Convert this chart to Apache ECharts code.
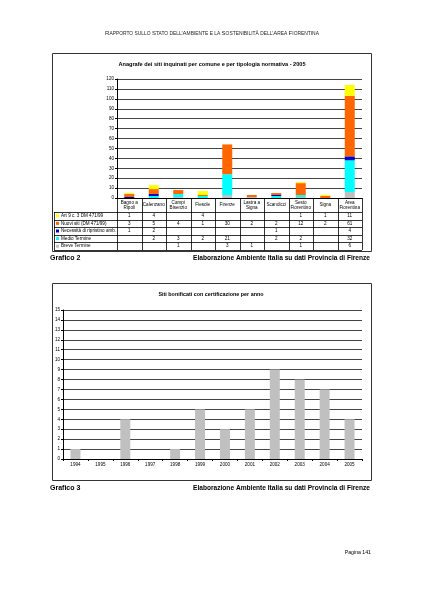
<!DOCTYPE html>
<html><head><meta charset="utf-8">
<script src="https://cdn.jsdelivr.net/npm/echarts@6/dist/echarts.min.js"></script>
<style>html,body{margin:0;padding:0;background:#fff}#c{width:424px;height:599px}</style>
</head><body><div id="c"></div>
<script>
const categories = ['Bagno a\nRipoli','Calenzano','Campi\nBisenzio','Fiesole','Firenze','Lastra a\nSigna','Scandicci','Sesto\nFiorentino','Signa','Area\nFiorentina'];
const seriesNames = ['Art 9 c. 3 DM 471/99','Nuovi siti (DM 471/99)','Necessità di ripristino amb.','Medio Termine','Breve Termine'];
const art9 = [1,4,null,4,null,null,null,1,1,11];
const nuovi = [3,5,4,1,30,2,2,12,2,61];
const ripristino = [1,2,null,null,null,null,1,null,null,4];
const medio = [null,2,3,2,21,null,2,2,null,32];
const breve = [null,null,1,null,3,1,null,1,null,6];
const seriesColors = ['#ffff00','#ff6600','#0000cc','#00ffff','#c0c0c0'];
const years = ['1994','1995','1996','1997','1998','1999','2000','2001','2002','2003','2004','2005'];
const bonificati = [1,0,4,0,1,5,3,5,9,8,7,4];

const FONT = '"Liberation Sans", Arial, sans-serif';
const chart = echarts.init(document.getElementById('c'), null, {renderer:'canvas', width:424, height:599});

const g1 = {left:117, top:79, width:245, height:119};
const g2 = {left:63, top:310, width:299, height:149};
const rowsData = [art9, nuovi, ripristino, medio, breve];

const graphics = [];
const colW = g1.width / categories.length;
const tTop = g1.top + g1.height;
const hdrBottom = tTop + 14;
const rowH = 7.6;
const tBottom = hdrBottom + rowH * rowsData.length;
const legLeft = 54;
const lineStyle = {stroke:'#000', lineWidth:0.8};
for (let i = 0; i <= categories.length; i++) {
  const x = Math.round(g1.left + i * colW) + 0.5;
  graphics.push({type:'line', shape:{x1:x, y1:tTop, x2:x, y2:tBottom}, style:lineStyle, silent:true});
}
graphics.push({type:'line', shape:{x1:legLeft+0.5, y1:hdrBottom, x2:legLeft+0.5, y2:tBottom}, style:lineStyle, silent:true});
for (let r = 0; r <= rowsData.length; r++) {
  const y = Math.round(hdrBottom + r * rowH) + 0.5;
  graphics.push({type:'line', shape:{x1:legLeft, y1:y, x2:g1.left+g1.width, y2:y}, style:lineStyle, silent:true});
}
rowsData.forEach((arr, r) => {
  const cy = hdrBottom + r * rowH + rowH / 2;
  graphics.push({type:'rect', shape:{x:legLeft+2, y:cy-1.5, width:3, height:3}, style:{fill:seriesColors[r]}, silent:true});
  graphics.push({type:'text', x:legLeft+7, y:cy, style:{text:seriesNames[r], font:'4.6px '+FONT, fill:'#000', verticalAlign:'middle', align:'left'}, silent:true});
  arr.forEach((v, i) => {
    if (v === null) return;
    graphics.push({type:'text', x:g1.left + (i + 0.5) * colW, y:cy, style:{text:String(v), font:'4.6px '+FONT, fill:'#000', verticalAlign:'middle', align:'center'}, silent:true});
  });
});
graphics.push({type:'rect', shape:{x:52.5, y:53.5, width:319, height:198}, style:{fill:null, stroke:'#333', lineWidth:1}, silent:true, z:-1});
graphics.push({type:'rect', shape:{x:52.5, y:283.5, width:319, height:197}, style:{fill:null, stroke:'#333', lineWidth:1}, silent:true, z:-1});
graphics.push({type:'text', x:212, y:64, style:{text:'Anagrafe dei siti inquinati per comune e per tipologia normativa - 2005', font:'bold 5.6px '+FONT, fill:'#000', align:'center', verticalAlign:'middle'}});
graphics.push({type:'text', x:211, y:295, style:{text:'Siti bonificati con certificazione per anno', font:'bold 5.4px '+FONT, fill:'#000', align:'center', verticalAlign:'middle'}});
graphics.push({type:'text', x:50, y:258, style:{text:'Grafico 2', font:'bold 7px '+FONT, fill:'#000', align:'left', verticalAlign:'middle'}});
graphics.push({type:'text', x:370, y:258, style:{text:'Elaborazione Ambiente Italia su dati Provincia di Firenze', font:'bold 6.6px '+FONT, fill:'#000', align:'right', verticalAlign:'middle'}});
graphics.push({type:'text', x:50, y:488, style:{text:'Grafico 3', font:'bold 7px '+FONT, fill:'#000', align:'left', verticalAlign:'middle'}});
graphics.push({type:'text', x:370, y:488, style:{text:'Elaborazione Ambiente Italia su dati Provincia di Firenze', font:'bold 6.6px '+FONT, fill:'#000', align:'right', verticalAlign:'middle'}});
graphics.push({type:'text', x:371, y:553, style:{text:'Pagina 141', font:'5.2px '+FONT, fill:'#000', align:'right', verticalAlign:'middle'}});
graphics.push({type:'text', x:212, y:33, style:{
  text:'{b|R}{s|APPORTO SULLO }{b|S}{s|TATO DELL\u2019}{b|A}{s|MBIENTE E LA }{b|S}{s|OSTENIBILITÀ DELL\u2019}{b|A}{s|REA }{b|F}{s|IORENTINA}',
  align:'center', verticalAlign:'middle',
  rich:{b:{fontSize:6, fontFamily:'Liberation Sans', fill:'#222', verticalAlign:'bottom', lineHeight:7},
        s:{fontSize:4.9, fontFamily:'Liberation Sans', fill:'#222', verticalAlign:'bottom', lineHeight:6}}
}});

const axisFont = {fontSize:4.6, fontFamily:'Liberation Sans', color:'#000'};
const series = [];
[4,3,2,1,0].forEach(r => {
  series.push({name:seriesNames[r], type:'bar', stack:'a', xAxisIndex:0, yAxisIndex:0, data:rowsData[r], barWidth:10,
    itemStyle:{color:seriesColors[r]}, animation:false});
});
series.push({name:'Siti bonificati', type:'bar', xAxisIndex:1, yAxisIndex:1, data:bonificati, barWidth:10, itemStyle:{color:'#c0c0c0'}, animation:false});

chart.setOption({
  backgroundColor:'#fff',
  animation:false,
  grid:[Object.assign({containLabel:false}, g1), Object.assign({containLabel:false}, g2)],
  xAxis:[
    {type:'category', gridIndex:0, data:categories, axisLine:{lineStyle:{color:'#000', width:1}}, axisTick:{show:false},
     axisLabel:Object.assign({interval:0, margin:7, verticalAlign:'middle', lineHeight:5, align:'center'}, axisFont), splitLine:{show:false}},
    {type:'category', gridIndex:1, data:years, axisLine:{lineStyle:{color:'#000', width:1}}, axisTick:{show:true, length:2, lineStyle:{color:'#000'}},
     axisLabel:Object.assign({interval:0, margin:3}, axisFont), splitLine:{show:false}}
  ],
  yAxis:[
    {type:'value', gridIndex:0, min:0, max:120, interval:10, axisLine:{show:true, lineStyle:{color:'#000', width:1}},
     axisTick:{show:true, length:2, lineStyle:{color:'#000'}}, axisLabel:Object.assign({margin:3}, axisFont),
     splitLine:{show:true, lineStyle:{color:'#444', width:1}}},
    {type:'value', gridIndex:1, min:0, max:15, interval:1, axisLine:{show:true, lineStyle:{color:'#000', width:1}},
     axisTick:{show:true, length:2, lineStyle:{color:'#000'}}, axisLabel:Object.assign({margin:3}, axisFont),
     splitLine:{show:true, lineStyle:{color:'#444', width:1}}}
  ],
  series:series,
  graphic:graphics
});
</script></body></html>
